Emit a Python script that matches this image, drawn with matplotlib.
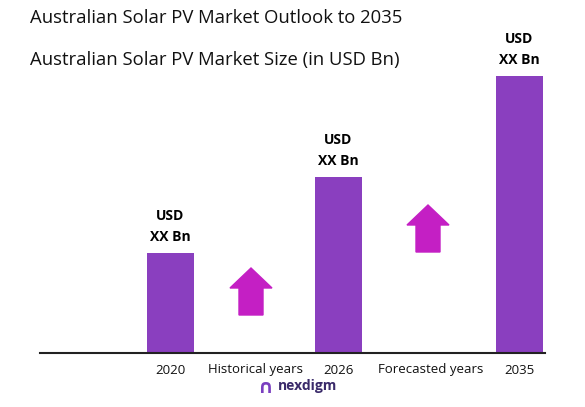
import matplotlib
matplotlib.use("Agg")
import matplotlib.pyplot as plt
from matplotlib.patches import FancyArrow

years = ["2020", "2026", "2035"]
bar_x = [170, 338, 519]          # bar centres in pixel units
values = [1.00, 1.76, 2.77]      # relative market size
bar_labels = ["USD\nXX Bn", "USD\nXX Bn", "USD\nXX Bn"]
period_labels = ["Historical years", "Forecasted years"]
period_x = [255, 431]
arrow_x = [251, 428]
arrow_base = [0.38, 1.01]
arrow_len = [0.47, 0.47]

bar_color = "#8a3fbf"
arrow_color = "#c41fc4"

plt.rcParams['font.family'] = ['Open Sans', 'DejaVu Sans']
fig = plt.figure(figsize=(5.85, 4.07), dpi=100)
ax = fig.add_axes([0, 0, 1, 1])
ax.set_xlim(0, 585)
ax.set_ylim(-0.54, 3.53)
ax.axis("off")

ax.bar(bar_x, values, width=47, color=bar_color, zorder=2)
ax.plot([40, 545], [0, 0], color="#222222", lw=1.5, zorder=3)

for x, v, lab in zip(bar_x, values, bar_labels):
    ax.text(x, v + 0.09, lab, ha="center", va="bottom", fontsize=10,
            fontweight="bold", linespacing=1.6, color="black")
for x, y in zip(bar_x, years):
    ax.text(x, -0.17, y, ha="center", va="center", fontsize=9.5, color="#111111")
for x, t in zip(period_x, period_labels):
    ax.text(x, -0.17, t, ha="center", va="center", fontsize=9.5, color="#111111")

for x, b, l in zip(arrow_x, arrow_base, arrow_len):
    ax.add_patch(FancyArrow(x, b, 0, l, width=24, head_width=42,
                            head_length=0.2, length_includes_head=True,
                            color=arrow_color, zorder=2))

fig.text(30 / 585, 1 - 18 / 407, "Australian Solar PV Market Outlook to 2035",
         fontsize=13.3, va="center", ha="left", color="#111111")
fig.text(30 / 585, 1 - 60 / 407, "Australian Solar PV Market Size (in USD Bn)",
         fontsize=13.3, va="center", ha="left", color="#111111")

fig.text(265 / 585, 1 - 388 / 407, "∩", fontsize=14, color="#7a3fc0",
         ha="center", va="center", fontweight="bold")
fig.text(278 / 585, 1 - 386 / 407, "nexdigm", fontsize=10, color="#3a2a6a",
         ha="left", va="center", fontweight="bold")

fig.savefig("out.png", dpi=100)
